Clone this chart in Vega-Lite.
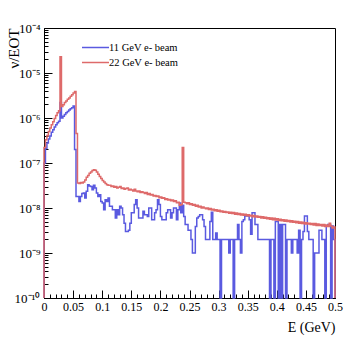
{
"$schema": "https://vega.github.io/schema/vega-lite/v6.json",
"width": 291, "height": 270,
"autosize": {"type": "none"},
"padding": {"left": 44, "top": 28, "right": 22, "bottom": 42},
"background": "white",
"config": {
  "font": "Liberation Serif",
  "view": {"stroke": "black", "strokeWidth": 1},
  "axis": {"domainColor": "black", "tickColor": "black", "labelColor": "black", "titleColor": "black", "grid": false, "labelFont": "Liberation Serif", "titleFont": "Liberation Serif", "titleFontWeight": "normal", "tickWidth": 1, "domainWidth": 1},
  "legend": {"labelFont": "Liberation Serif", "labelFontSize": 10.5, "labelColor": "black"}
},
"datasets": {
"blue": [
{"i":-1,"E":0,"v":1e-12},{"i":0,"E":0,"v":1e-7},{"i":1,"E":0.0025,"v":2.1e-7},{"i":2,"E":0.005,"v":2.8e-7},{"i":3,"E":0.0075,"v":3.4e-7},
{"i":4,"E":0.01,"v":4e-7},{"i":5,"E":0.0125,"v":4.8e-7},{"i":6,"E":0.015,"v":5.5e-7},{"i":7,"E":0.0175,"v":6.3e-7},
{"i":8,"E":0.02,"v":7.1e-7},{"i":9,"E":0.0225,"v":7.8e-7},{"i":10,"E":0.025,"v":8.5e-7},{"i":11,"E":0.0275,"v":2.2e-6},
{"i":12,"E":0.03,"v":1e-6},{"i":13,"E":0.0325,"v":1.1e-6},{"i":14,"E":0.035,"v":1.2e-6},{"i":15,"E":0.0375,"v":1.3e-6},
{"i":16,"E":0.04,"v":1.4e-6},{"i":17,"E":0.0425,"v":1.5e-6},{"i":18,"E":0.045,"v":1.6e-6},{"i":19,"E":0.0475,"v":1.7e-6},
{"i":20,"E":0.05,"v":1.85e-6},{"i":21,"E":0.0525,"v":2e-7},{"i":22,"E":0.055,"v":1.8e-8},{"i":23,"E":0.0575,"v":1.8e-8},
{"i":24,"E":0.06,"v":1.4e-8},{"i":25,"E":0.0625,"v":1.8e-8},{"i":26,"E":0.065,"v":2.1e-8},{"i":27,"E":0.0675,"v":2.15e-8},
{"i":28,"E":0.07,"v":1.67e-8},{"i":29,"E":0.0725,"v":2.35e-8},{"i":30,"E":0.075,"v":3.3e-8},{"i":31,"E":0.0775,"v":3.1e-8},
{"i":32,"E":0.08,"v":3e-8},{"i":33,"E":0.0825,"v":2.55e-8},{"i":34,"E":0.085,"v":3.2e-8},{"i":35,"E":0.0875,"v":2.8e-8},
{"i":36,"E":0.09,"v":2.15e-8},{"i":37,"E":0.0925,"v":1.8e-8},{"i":38,"E":0.095,"v":1.98e-8},{"i":39,"E":0.0975,"v":1.4e-8},
{"i":40,"E":0.1,"v":1.29e-8},{"i":41,"E":0.1025,"v":9.2e-9},{"i":42,"E":0.105,"v":1.53e-8},{"i":43,"E":0.1075,"v":1.4e-8},
{"i":44,"E":0.11,"v":1.67e-8},{"i":45,"E":0.1125,"v":1.09e-8},{"i":46,"E":0.115,"v":1.09e-8},{"i":47,"E":0.1175,"v":9.2e-9},
{"i":48,"E":0.12,"v":9.2e-9},{"i":49,"E":0.1225,"v":6e-9},{"i":50,"E":0.125,"v":9.2e-9},{"i":51,"E":0.1275,"v":7.1e-9},
{"i":52,"E":0.13,"v":1.09e-8},{"i":53,"E":0.1325,"v":1e-8},{"i":54,"E":0.135,"v":7.1e-9},{"i":55,"E":0.1375,"v":4.6e-9},
{"i":56,"E":0.14,"v":3e-9},{"i":57,"E":0.1425,"v":3e-9},{"i":58,"E":0.145,"v":3.2e-9},{"i":59,"E":0.1475,"v":4.6e-9},
{"i":60,"E":0.15,"v":7.8e-9},{"i":61,"E":0.1525,"v":7.8e-9},{"i":62,"E":0.155,"v":1.19e-8},{"i":63,"E":0.1575,"v":1.53e-8},
{"i":64,"E":0.16,"v":1e-8},{"i":65,"E":0.1625,"v":6e-9},{"i":66,"E":0.165,"v":6e-9},{"i":67,"E":0.1675,"v":6e-9},
{"i":68,"E":0.17,"v":8.5e-9},{"i":69,"E":0.1725,"v":7.1e-9},{"i":70,"E":0.175,"v":7.1e-9},{"i":71,"E":0.1775,"v":6.5e-9},
{"i":72,"E":0.18,"v":1e-8},{"i":73,"E":0.1825,"v":1e-8},{"i":74,"E":0.185,"v":5.5e-9},{"i":75,"E":0.1875,"v":5.5e-9},
{"i":76,"E":0.19,"v":7.8e-9},{"i":77,"E":0.1925,"v":9.2e-9},{"i":78,"E":0.195,"v":1.53e-8},{"i":79,"E":0.1975,"v":1.19e-8},
{"i":80,"E":0.2,"v":6.5e-9},{"i":81,"E":0.2025,"v":5.5e-9},{"i":82,"E":0.205,"v":5.5e-9},{"i":83,"E":0.2075,"v":5.5e-9},
{"i":84,"E":0.21,"v":7.8e-9},{"i":85,"E":0.2125,"v":9.2e-9},{"i":86,"E":0.215,"v":9.2e-9},{"i":87,"E":0.2175,"v":6e-9},
{"i":88,"E":0.22,"v":7.8e-9},{"i":89,"E":0.2225,"v":1e-8},{"i":90,"E":0.225,"v":1e-8},{"i":91,"E":0.2275,"v":5.5e-9},
{"i":92,"E":0.23,"v":9.2e-9},{"i":93,"E":0.2325,"v":1.29e-8},{"i":94,"E":0.235,"v":7.8e-9},{"i":95,"E":0.2375,"v":1.15e-8},
{"i":96,"E":0.24,"v":6.5e-9},{"i":97,"E":0.2425,"v":4.3e-9},{"i":98,"E":0.245,"v":4.3e-9},{"i":99,"E":0.2475,"v":3.2e-9},
{"i":100,"E":0.25,"v":3.2e-9},{"i":101,"E":0.2525,"v":2e-9},{"i":102,"E":0.255,"v":1e-9},{"i":103,"E":0.2575,"v":1e-9},
{"i":104,"E":0.26,"v":3.9e-9},{"i":105,"E":0.2625,"v":6e-9},{"i":106,"E":0.265,"v":6.5e-9},{"i":107,"E":0.2675,"v":7.1e-9},
{"i":108,"E":0.27,"v":7.1e-9},{"i":109,"E":0.2725,"v":5.5e-9},{"i":110,"E":0.275,"v":3.9e-9},{"i":111,"E":0.2775,"v":2e-9},
{"i":112,"E":0.28,"v":2e-9},{"i":113,"E":0.2825,"v":2e-9},{"i":114,"E":0.285,"v":5e-9},{"i":115,"E":0.2875,"v":8e-9},
{"i":116,"E":0.29,"v":2e-9},{"i":117,"E":0.2925,"v":2e-9},{"i":118,"E":0.295,"v":2.8e-9},{"i":119,"E":0.2975,"v":2e-9},
{"i":120,"E":0.3,"v":2e-9},{"i":121,"E":0.3025,"v":1e-12},{"i":122,"E":0.305,"v":2e-9},{"i":123,"E":0.3075,"v":2e-9},
{"i":124,"E":0.31,"v":2e-9},{"i":125,"E":0.3125,"v":2e-9},{"i":126,"E":0.315,"v":2e-9},{"i":127,"E":0.3175,"v":1e-9},
{"i":128,"E":0.32,"v":2e-9},{"i":129,"E":0.3225,"v":2e-9},{"i":130,"E":0.325,"v":1e-12},{"i":131,"E":0.3275,"v":2e-9},
{"i":132,"E":0.33,"v":2e-9},{"i":133,"E":0.3325,"v":4.3e-9},{"i":134,"E":0.335,"v":2e-9},{"i":135,"E":0.3375,"v":1e-9},
{"i":136,"E":0.34,"v":5e-9},{"i":137,"E":0.3425,"v":5.5e-9},{"i":138,"E":0.345,"v":6.6e-9},{"i":139,"E":0.3475,"v":6.6e-9},
{"i":140,"E":0.35,"v":7.1e-9},{"i":141,"E":0.3525,"v":5.5e-9},{"i":142,"E":0.355,"v":2.6e-9},{"i":143,"E":0.3575,"v":7.8e-9},
{"i":144,"E":0.36,"v":7.8e-9},{"i":145,"E":0.3625,"v":4.3e-9},{"i":146,"E":0.365,"v":4.3e-9},{"i":147,"E":0.3675,"v":2e-9},
{"i":148,"E":0.37,"v":2e-9},{"i":149,"E":0.3725,"v":2e-9},{"i":150,"E":0.375,"v":2e-9},{"i":151,"E":0.3775,"v":2e-9},
{"i":152,"E":0.38,"v":2e-9},{"i":153,"E":0.3825,"v":2e-9},{"i":154,"E":0.385,"v":2e-9},{"i":155,"E":0.3875,"v":1e-12},
{"i":156,"E":0.39,"v":2e-9},{"i":157,"E":0.3925,"v":2e-9},{"i":158,"E":0.395,"v":1e-12},{"i":159,"E":0.3975,"v":5e-9},
{"i":160,"E":0.4,"v":5e-9},{"i":161,"E":0.4025,"v":1e-12},{"i":162,"E":0.405,"v":4.3e-9},{"i":163,"E":0.4075,"v":1e-12},
{"i":164,"E":0.41,"v":4.3e-9},{"i":165,"E":0.4125,"v":4.3e-9},{"i":166,"E":0.415,"v":1e-12},{"i":167,"E":0.4175,"v":2e-9},
{"i":168,"E":0.42,"v":2e-9},{"i":169,"E":0.4225,"v":2e-9},{"i":170,"E":0.425,"v":1e-9},{"i":171,"E":0.4275,"v":2e-9},
{"i":172,"E":0.43,"v":2e-9},{"i":173,"E":0.4325,"v":2e-9},{"i":174,"E":0.435,"v":1e-9},{"i":175,"E":0.4375,"v":3.2e-9},
{"i":176,"E":0.44,"v":1e-12},{"i":177,"E":0.4425,"v":2e-9},{"i":178,"E":0.445,"v":3e-9},{"i":179,"E":0.4475,"v":6.6e-9},
{"i":180,"E":0.45,"v":6.6e-9},{"i":181,"E":0.4525,"v":3e-9},{"i":182,"E":0.455,"v":2e-9},{"i":183,"E":0.4575,"v":2e-9},
{"i":184,"E":0.46,"v":2e-9},{"i":185,"E":0.4625,"v":1e-12},{"i":186,"E":0.465,"v":1e-9},{"i":187,"E":0.4675,"v":1e-9},
{"i":188,"E":0.47,"v":1e-9},{"i":189,"E":0.4725,"v":3.2e-9},{"i":190,"E":0.475,"v":3.2e-9},{"i":191,"E":0.4775,"v":2e-9},
{"i":192,"E":0.48,"v":2e-9},{"i":193,"E":0.4825,"v":1e-12},{"i":194,"E":0.485,"v":4e-9},{"i":195,"E":0.4875,"v":4.3e-9},
{"i":196,"E":0.49,"v":4.3e-9},{"i":197,"E":0.4925,"v":1e-12},{"i":198,"E":0.495,"v":4e-9},{"i":199,"E":0.4975,"v":2e-9},
{"i":200,"E":0.5,"v":2e-9},{"i":201,"E":0.5,"v":1e-12}
],
"red": [
{"i":-1,"E":0,"v":1e-12},{"i":0,"E":0,"v":2.2e-7},{"i":1,"E":0.0025,"v":3.3e-7},{"i":2,"E":0.005,"v":4.1e-7},{"i":3,"E":0.0075,"v":5e-7},
{"i":4,"E":0.01,"v":6e-7},{"i":5,"E":0.0125,"v":7.1e-7},{"i":6,"E":0.015,"v":8.3e-7},{"i":7,"E":0.0175,"v":9.7e-7},
{"i":8,"E":0.02,"v":1.13e-6},{"i":9,"E":0.0225,"v":1.3e-6},{"i":10,"E":0.025,"v":1.45e-6},{"i":11,"E":0.0275,"v":2.3e-5},
{"i":12,"E":0.03,"v":1.8e-6},{"i":13,"E":0.0325,"v":1.98e-6},{"i":14,"E":0.035,"v":2.2e-6},{"i":15,"E":0.0375,"v":2.4e-6},
{"i":16,"E":0.04,"v":2.6e-6},{"i":17,"E":0.0425,"v":2.8e-6},{"i":18,"E":0.045,"v":3.05e-6},{"i":19,"E":0.0475,"v":3.3e-6},
{"i":20,"E":0.05,"v":3.6e-6},{"i":21,"E":0.0525,"v":3.9e-6},{"i":22,"E":0.055,"v":4.5e-7},{"i":23,"E":0.0575,"v":3.6e-8},
{"i":24,"E":0.06,"v":3.5e-8},{"i":25,"E":0.0625,"v":3.7e-8},{"i":26,"E":0.065,"v":3.6e-8},{"i":27,"E":0.0675,"v":3.8e-8},
{"i":28,"E":0.07,"v":4.2e-8},{"i":29,"E":0.0725,"v":4.8e-8},{"i":30,"E":0.075,"v":5.3e-8},{"i":31,"E":0.0775,"v":5.9e-8},
{"i":32,"E":0.08,"v":6.3e-8},{"i":33,"E":0.0825,"v":6.8e-8},{"i":34,"E":0.085,"v":7.1e-8},{"i":35,"E":0.0875,"v":6.9e-8},
{"i":36,"E":0.09,"v":6.3e-8},{"i":37,"E":0.0925,"v":5.6e-8},{"i":38,"E":0.095,"v":5e-8},{"i":39,"E":0.0975,"v":4.5e-8},
{"i":40,"E":0.1,"v":4.1e-8},{"i":41,"E":0.1025,"v":3.8e-8},{"i":42,"E":0.105,"v":3.5e-8},{"i":43,"E":0.1075,"v":3.3e-8},
{"i":44,"E":0.11,"v":3.2e-8},{"i":45,"E":0.1125,"v":3.2e-8},{"i":46,"E":0.115,"v":3e-8},{"i":47,"E":0.1175,"v":3.1e-8},
{"i":48,"E":0.12,"v":2.9e-8},{"i":49,"E":0.1225,"v":3e-8},{"i":50,"E":0.125,"v":2.8e-8},{"i":51,"E":0.1275,"v":2.9e-8},
{"i":52,"E":0.13,"v":3e-8},{"i":53,"E":0.1325,"v":2.7e-8},{"i":54,"E":0.135,"v":2.8e-8},{"i":55,"E":0.1375,"v":2.6e-8},
{"i":56,"E":0.14,"v":2.7e-8},{"i":57,"E":0.1425,"v":2.8e-8},{"i":58,"E":0.145,"v":2.5e-8},{"i":59,"E":0.1475,"v":2.6e-8},
{"i":60,"E":0.15,"v":2.5e-8},{"i":61,"E":0.1525,"v":2.4e-8},{"i":62,"E":0.155,"v":2.6e-8},{"i":63,"E":0.1575,"v":2.4e-8},
{"i":64,"E":0.16,"v":2.3e-8},{"i":65,"E":0.1625,"v":2.4e-8},{"i":66,"E":0.165,"v":2.2e-8},{"i":67,"E":0.1675,"v":2.3e-8},
{"i":68,"E":0.17,"v":2.2e-8},{"i":69,"E":0.1725,"v":2.1e-8},{"i":70,"E":0.175,"v":2.2e-8},{"i":71,"E":0.1775,"v":2e-8},
{"i":72,"E":0.18,"v":2.1e-8},{"i":73,"E":0.1825,"v":1.95e-8},{"i":74,"E":0.185,"v":2e-8},{"i":75,"E":0.1875,"v":1.85e-8},
{"i":76,"E":0.19,"v":1.9e-8},{"i":77,"E":0.1925,"v":1.8e-8},{"i":78,"E":0.195,"v":1.85e-8},{"i":79,"E":0.1975,"v":1.7e-8},
{"i":80,"E":0.2,"v":1.75e-8},{"i":81,"E":0.2025,"v":1.65e-8},{"i":82,"E":0.205,"v":1.7e-8},{"i":83,"E":0.2075,"v":1.55e-8},
{"i":84,"E":0.21,"v":1.6e-8},{"i":85,"E":0.2125,"v":1.5e-8},{"i":86,"E":0.215,"v":1.55e-8},{"i":87,"E":0.2175,"v":1.45e-8},
{"i":88,"E":0.22,"v":1.5e-8},{"i":89,"E":0.2225,"v":1.4e-8},{"i":90,"E":0.225,"v":1.45e-8},{"i":91,"E":0.2275,"v":1.3e-8},
{"i":92,"E":0.23,"v":1.35e-8},{"i":93,"E":0.2325,"v":1.15e-8},{"i":94,"E":0.235,"v":1.2e-8},{"i":95,"E":0.2375,"v":2.2e-7},
{"i":96,"E":0.24,"v":1.35e-8},{"i":97,"E":0.2425,"v":1.3e-8},{"i":98,"E":0.245,"v":1.25e-8},{"i":99,"E":0.2475,"v":1.3e-8},
{"i":100,"E":0.25,"v":1.2e-8},{"i":101,"E":0.2525,"v":1.25e-8},{"i":102,"E":0.255,"v":1.15e-8},{"i":103,"E":0.2575,"v":1.2e-8},
{"i":104,"E":0.26,"v":1.1e-8},{"i":105,"E":0.2625,"v":1.15e-8},{"i":106,"E":0.265,"v":1.05e-8},{"i":107,"E":0.2675,"v":1.1e-8},
{"i":108,"E":0.27,"v":1e-8},{"i":109,"E":0.2725,"v":1.05e-8},{"i":110,"E":0.275,"v":1e-8},{"i":111,"E":0.2775,"v":9.6e-9},
{"i":112,"E":0.28,"v":1e-8},{"i":113,"E":0.2825,"v":9.3e-9},{"i":114,"E":0.285,"v":9.7e-9},{"i":115,"E":0.2875,"v":9e-9},
{"i":116,"E":0.29,"v":9.4e-9},{"i":117,"E":0.2925,"v":8.7e-9},{"i":118,"E":0.295,"v":9.1e-9},{"i":119,"E":0.2975,"v":8.5e-9},
{"i":120,"E":0.3,"v":8.9e-9},{"i":121,"E":0.3025,"v":8.3e-9},{"i":122,"E":0.305,"v":8.6e-9},{"i":123,"E":0.3075,"v":8e-9},
{"i":124,"E":0.31,"v":8.4e-9},{"i":125,"E":0.3125,"v":7.9e-9},{"i":126,"E":0.315,"v":8.2e-9},{"i":127,"E":0.3175,"v":7.6e-9},
{"i":128,"E":0.32,"v":8e-9},{"i":129,"E":0.3225,"v":7.5e-9},{"i":130,"E":0.325,"v":7.9e-9},{"i":131,"E":0.3275,"v":7.3e-9},
{"i":132,"E":0.33,"v":7.7e-9},{"i":133,"E":0.3325,"v":7.2e-9},{"i":134,"E":0.335,"v":7.5e-9},{"i":135,"E":0.3375,"v":7e-9},
{"i":136,"E":0.34,"v":7.4e-9},{"i":137,"E":0.3425,"v":6.9e-9},{"i":138,"E":0.345,"v":7.3e-9},{"i":139,"E":0.3475,"v":6.7e-9},
{"i":140,"E":0.35,"v":7.1e-9},{"i":141,"E":0.3525,"v":6.6e-9},{"i":142,"E":0.355,"v":6.9e-9},{"i":143,"E":0.3575,"v":6.4e-9},
{"i":144,"E":0.36,"v":6.8e-9},{"i":145,"E":0.3625,"v":6.3e-9},{"i":146,"E":0.365,"v":6.6e-9},{"i":147,"E":0.3675,"v":6.2e-9},
{"i":148,"E":0.37,"v":6.5e-9},{"i":149,"E":0.3725,"v":6e-9},{"i":150,"E":0.375,"v":6.4e-9},{"i":151,"E":0.3775,"v":5.9e-9},
{"i":152,"E":0.38,"v":6.2e-9},{"i":153,"E":0.3825,"v":5.8e-9},{"i":154,"E":0.385,"v":6.1e-9},{"i":155,"E":0.3875,"v":5.6e-9},
{"i":156,"E":0.39,"v":6e-9},{"i":157,"E":0.3925,"v":5.5e-9},{"i":158,"E":0.395,"v":5.9e-9},{"i":159,"E":0.3975,"v":5.4e-9},
{"i":160,"E":0.4,"v":5.8e-9},{"i":161,"E":0.4025,"v":5.3e-9},{"i":162,"E":0.405,"v":5.6e-9},{"i":163,"E":0.4075,"v":5.2e-9},
{"i":164,"E":0.41,"v":5.5e-9},{"i":165,"E":0.4125,"v":5.1e-9},{"i":166,"E":0.415,"v":5.4e-9},{"i":167,"E":0.4175,"v":5e-9},
{"i":168,"E":0.42,"v":5.3e-9},{"i":169,"E":0.4225,"v":4.9e-9},{"i":170,"E":0.425,"v":5.2e-9},{"i":171,"E":0.4275,"v":4.8e-9},
{"i":172,"E":0.43,"v":5.1e-9},{"i":173,"E":0.4325,"v":4.7e-9},{"i":174,"E":0.435,"v":5e-9},{"i":175,"E":0.4375,"v":4.6e-9},
{"i":176,"E":0.44,"v":4.9e-9},{"i":177,"E":0.4425,"v":4.5e-9},{"i":178,"E":0.445,"v":4.8e-9},{"i":179,"E":0.4475,"v":4.4e-9},
{"i":180,"E":0.45,"v":4.7e-9},{"i":181,"E":0.4525,"v":4.4e-9},{"i":182,"E":0.455,"v":4.6e-9},{"i":183,"E":0.4575,"v":4.3e-9},
{"i":184,"E":0.46,"v":4.5e-9},{"i":185,"E":0.4625,"v":4.2e-9},{"i":186,"E":0.465,"v":4.5e-9},{"i":187,"E":0.4675,"v":4.1e-9},
{"i":188,"E":0.47,"v":4.4e-9},{"i":189,"E":0.4725,"v":4.1e-9},{"i":190,"E":0.475,"v":4.3e-9},{"i":191,"E":0.4775,"v":4e-9},
{"i":192,"E":0.48,"v":4.3e-9},{"i":193,"E":0.4825,"v":3.9e-9},{"i":194,"E":0.485,"v":4.2e-9},{"i":195,"E":0.4875,"v":3.9e-9},
{"i":196,"E":0.49,"v":4.6e-9},{"i":197,"E":0.4925,"v":4e-9},{"i":198,"E":0.495,"v":3.6e-9},{"i":199,"E":0.4975,"v":3.8e-9},
{"i":200,"E":0.5,"v":3.8e-9},{"i":201,"E":0.5,"v":1e-12}
]
},
"encoding": {
  "x": {"field": "E", "type": "quantitative", "title": "E (GeV)",
    "scale": {"domain": [0, 0.5], "nice": false, "zero": false},
    "axis": {
      "values": [0,0.01,0.02,0.03,0.04,0.05,0.06,0.07,0.08,0.09,0.1,0.11,0.12,0.13,0.14,0.15,0.16,0.17,0.18,0.19,0.2,0.21,0.22,0.23,0.24,0.25,0.26,0.27,0.28,0.29,0.3,0.31,0.32,0.33,0.34,0.35,0.36,0.37,0.38,0.39,0.4,0.41,0.42,0.43,0.44,0.45,0.46,0.47,0.48,0.49,0.5],
      "labelExpr": "abs(datum.value*20-round(datum.value*20))<0.001 ? format(datum.value,'~g') : ''",
      "tickSize": {"condition": {"test": "abs(datum.value*20-round(datum.value*20))<0.001", "value": -8}, "value": -4},
      "labelFontSize": 12, "labelPadding": 11, "labelOverlap": false, "labelFlush": false,
      "titleFontSize": 14, "titleAnchor": "end", "titleAlign": "right", "titleX": 291, "titleY": 33, "titleBaseline": "alphabetic"
    }
  },
  "y": {"field": "v", "type": "quantitative", "title": "ν/EOT",
    "scale": {"type": "log", "domain": [1e-10, 1e-4], "clamp": true, "nice": false},
    "axis": {
      "values": [1e-10,2e-10,3e-10,4e-10,5e-10,6e-10,7e-10,8e-10,9e-10,1e-9,2e-9,3e-9,4e-9,5e-9,6e-9,7e-9,8e-9,9e-9,1e-8,2e-8,3e-8,4e-8,5e-8,6e-8,7e-8,8e-8,9e-8,1e-7,2e-7,3e-7,4e-7,5e-7,6e-7,7e-7,8e-7,9e-7,1e-6,2e-6,3e-6,4e-6,5e-6,6e-6,7e-6,8e-6,9e-6,1e-5,2e-5,3e-5,4e-5,5e-5,6e-5,7e-5,8e-5,9e-5,1e-4],
      "labelExpr": "abs(log(datum.value)/LN10-round(log(datum.value)/LN10))<0.001 ? ['10⁻¹⁰','10⁻⁹','10⁻⁸','10⁻⁷','10⁻⁶','10⁻⁵','10⁻⁴'][round(log(datum.value)/LN10)+10] : ''",
      "tickSize": {"condition": {"test": "abs(log(datum.value)/LN10-round(log(datum.value)/LN10))<0.001", "value": -8}, "value": -4},
      "labelFontSize": 13, "labelPadding": 12, "labelOverlap": false, "labelFlush": false,
      "titleFontSize": 15, "titleAngle": -90, "titleAnchor": "end", "titleAlign": "right", "titleX": -26, "titleY": 0, "titleBaseline": "alphabetic"
    }
  },
  "order": {"field": "i", "type": "quantitative"}
},
"layer": [
  {"data": {"name": "blue"},
   "mark": {"type": "line", "interpolate": "step-after", "strokeWidth": 1.5},
   "encoding": {"color": {"datum": "11 GeV e- beam", "type": "nominal",
      "scale": {"domain": ["11 GeV e- beam", "22 GeV e- beam"], "range": ["#5a5ae0", "#de6a6a"]},
      "legend": {"title": null, "orient": "none", "legendX": 44, "legendY": 12, "symbolType": "M-2,0H2", "symbolSize": 182, "symbolStrokeWidth": 1.5, "labelOffset": 6, "rowPadding": 2, "padding": 0}}}},
  {"data": {"name": "red"},
   "mark": {"type": "line", "interpolate": "step-after", "strokeWidth": 1.5},
   "encoding": {"color": {"datum": "22 GeV e- beam", "type": "nominal"}}}
]
}
